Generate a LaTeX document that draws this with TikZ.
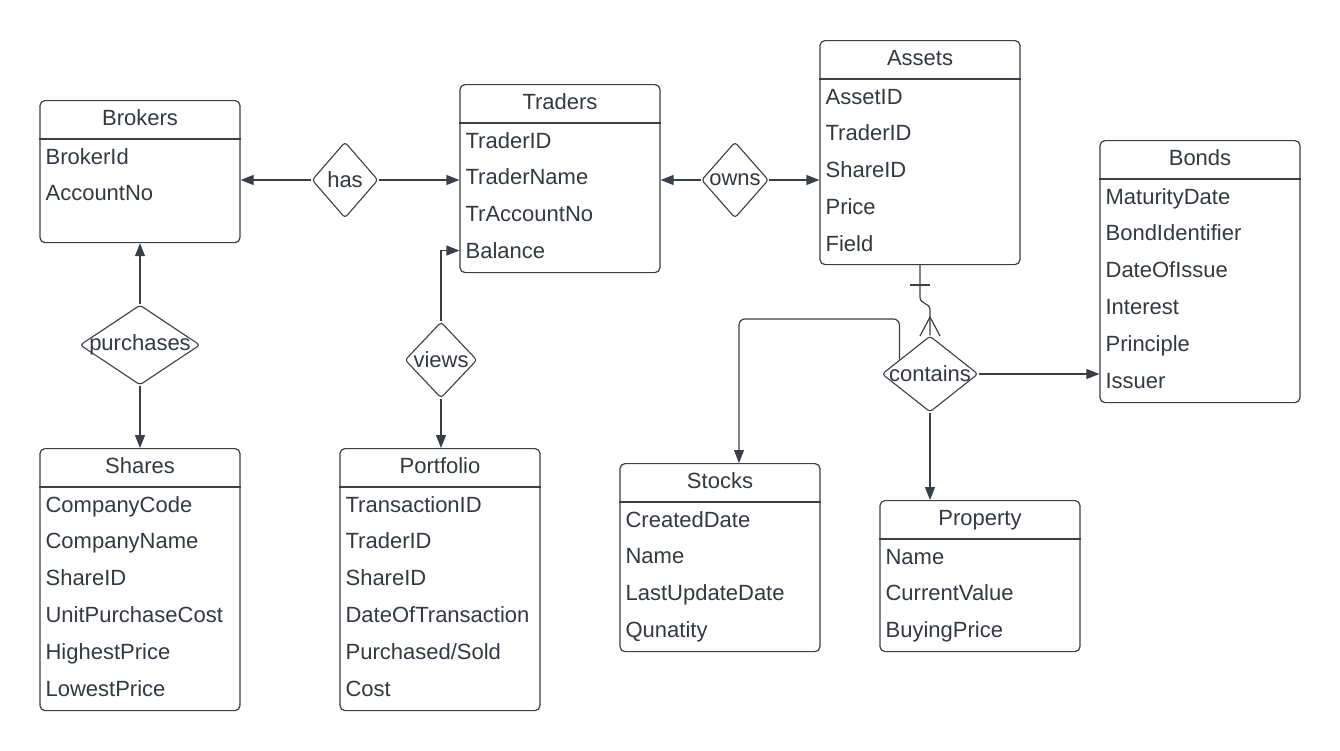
\documentclass[tikz,border=0pt]{standalone}
\usepackage{fontspec}
\setmainfont{Liberation Sans}
\usetikzlibrary{shapes.geometric,arrows.meta,calc}
\definecolor{ink}{RGB}{51,56,66}
\definecolor{edgecol}{RGB}{58,62,70}
\newcommand\mkent[6]{%
  \node[ent, minimum height=#4pt, anchor=north] (#1) at (#2,#3) {};
  \draw[ln] ([yshift=-39pt]#1.north west) -- ([yshift=-39pt]#1.north east);
  \node[ttl] (#1-t) at ([yshift=-25pt]#1.north) {#5};
  \foreach \a [count=\i] in {#6} {
    \node[attr] (#1-\i) at ([xshift=6pt, yshift={-64pt-36.8pt*(\i-1)}]#1.north west) {\a};
  }
}
\begin{document}
\begin{tikzpicture}[x=1pt,y=-1pt,
  every node/.style={font=\fontsize{22}{26}\selectfont, text=ink},
  ent/.style={draw=edgecol, line width=1.2pt, rounded corners=5pt, minimum width=200pt, inner sep=0pt, fill=white},
  ttl/.style={anchor=base, inner sep=0pt},
  attr/.style={anchor=base west, inner sep=0pt},
  rel/.style={draw=edgecol, shape=diamond, line width=1.1pt, rounded corners=3pt, inner sep=0pt, fill=white},
  ln/.style={draw=edgecol, line width=1.2pt},
  arr/.style={ln, -{Triangle[length=13pt,width=10pt]}},
]
\useasboundingbox (0,0) rectangle (1340,750);

\mkent{brokers}{140}{100}{142}{Brokers}{BrokerId,AccountNo}
\mkent{traders}{560}{84}{188}{Traders}{TraderID,TraderName,TrAccountNo,Balance}
\mkent{assets}{920}{40}{224}{Assets}{AssetID,TraderID,ShareID,Price,Field}
\mkent{bonds}{1200}{140}{262}{Bonds}{MaturityDate,BondIdentifier,DateOfIssue,Interest,Principle,Issuer}
\mkent{shares}{140}{448}{262}{Shares}{CompanyCode,CompanyName,ShareID,UnitPurchaseCost,HighestPrice,LowestPrice}
\mkent{portfolio}{440}{448}{262}{Portfolio}{TransactionID,TraderID,ShareID,DateOfTransaction,Purchased/Sold,Cost}
\mkent{stocks}{720}{463}{188}{Stocks}{CreatedDate,Name,LastUpdateDate,Qunatity}
\mkent{property}{980}{500}{151}{Property}{Name,CurrentValue,BuyingPrice}

\node[rel, minimum width=66pt, minimum height=76pt] (has) at (345,180) {\makebox[0pt]{has}};
\node[rel, minimum width=67pt, minimum height=76pt] (owns) at (735,180) {\makebox[0pt]{owns}};
\node[rel, minimum width=120pt, minimum height=80pt] (purchases) at (140,345) {\makebox[0pt]{purchases}};
\node[rel, minimum width=72pt, minimum height=76pt] (views) at (441,360) {\makebox[0pt]{views}};
\node[rel, minimum width=96pt, minimum height=76pt] (contains) at (930,374) {\makebox[0pt]{contains}};

\draw[arr] (has.west) -- (has.west -| brokers.east);
\draw[arr] (has.east) -- (has.east -| traders.west);
\draw[arr] (owns.west) -- (owns.west -| traders.east);
\draw[arr] (owns.east) -- (owns.east -| assets.west);
\draw[arr] (purchases.north) -- (purchases.north |- brokers.south);
\draw[arr] (purchases.south) -- (purchases.south |- shares.north);
\draw[arr] (views.north) |- (traders.west |- traders-4.center);
\draw[arr] (views.south) -- (views.south |- portfolio.north);
\draw[arr] (contains.east) -- (contains.east -| bonds.west);
\draw[arr] (contains.south) -- (contains.south |- property.north);

\coordinate (cs) at ($(contains.west)!0.37!(contains.north)$);
\coordinate (bend) at (739,319);
\draw[arr, rounded corners=6pt] (cs) |- (bend) -- (bend |- stocks.north);

\draw[ln] (assets.south) -- (920,297) .. controls (920,305) and (930,302) .. (930,310) -- (contains.north);
\draw[ln] (910,285) -- (930,285);
\draw[ln] (920,336) -- (930,317) -- (940,336);
\end{tikzpicture}
\end{document}
